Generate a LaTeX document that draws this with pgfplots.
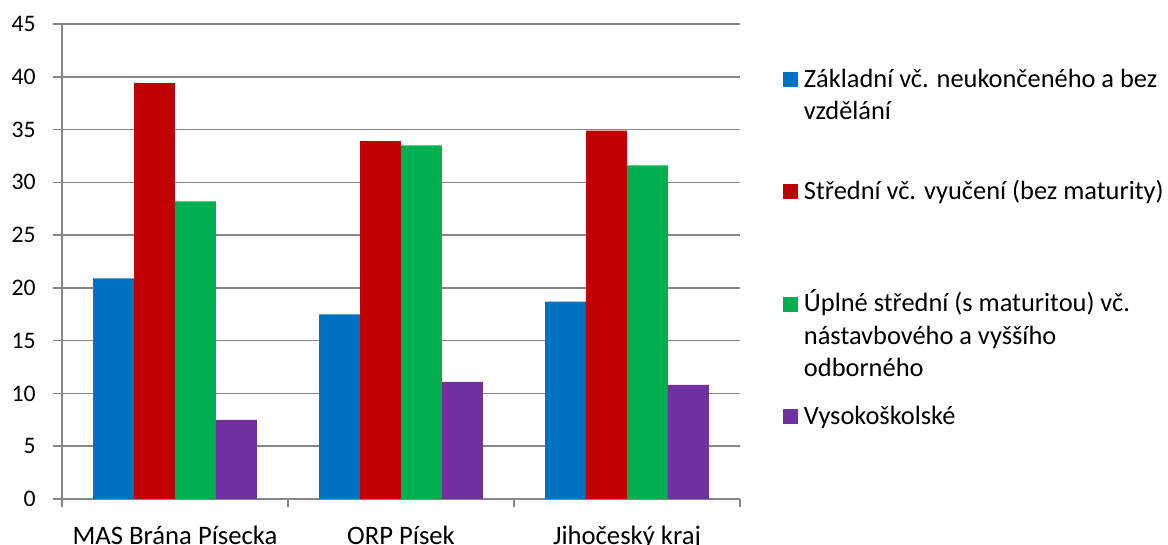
\documentclass[border=0pt]{standalone}
\usepackage{fontspec}
\setmainfont{Carlito}
\usepackage{pgfplots}
\pgfplotsset{compat=1.18}
\definecolor{sblue}{HTML}{0070C0}
\definecolor{sred}{HTML}{C00000}
\definecolor{sgreen}{HTML}{00B050}
\definecolor{spurple}{HTML}{7030A0}
\definecolor{gridgray}{HTML}{868686}
\newcommand{\legtext}[1]{\parbox[t][84.25pt][t]{300pt}{\fontsize{19.8}{24.4}\selectfont\rule{0pt}{19pt}#1}}
\pgfplotsset{lsq/.style={legend image code/.code={\fill[##1] (0pt,0pt) rectangle (11.25pt,11.25pt);}}}
\begin{document}
\begin{tikzpicture}
\useasboundingbox (-46.5pt,-34.5pt) rectangle (829.5pt,374.25pt);
\begin{axis}[
  at={(0pt,0pt)}, anchor=south west,
  scale only axis, width=508.5pt, height=356.25pt,
  ybar=0pt, bar width=0.1814,
  xmin=-0.5, xmax=2.5, ymin=0, ymax=45,
  ytick={0,5,...,45},
  xtick={0,1,2},
  xticklabels={MAS Brána Písecka, ORP Písek, Jihočeský kraj},
  minor xtick={-0.5,0.5,1.5,2.5},
  major x tick style={draw=none},
  tick align=outside, tick pos=left,
  major tick length=6.75pt, minor tick length=6pt,
  axis x line*=bottom, axis y line*=left,
  axis line style={-, draw=gridgray, line width=1.1pt},
  tick style={draw=gridgray, line width=1.1pt},
  ymajorgrids, major grid style={draw=gridgray, line width=1.1pt},
  /pgf/number format/assume math mode=true,
  yticklabel style={font=\fontsize{17.8}{21}\selectfont, inner sep=0pt, anchor=east, xshift=-12.75pt},
  xticklabel style={font=\fontsize{20}{24}\selectfont, inner sep=0pt, anchor=base, yshift=-27.5pt},
  legend style={at={(1.0634,0.9207)}, anchor=north west, draw=none, fill=none,
    inner sep=0pt, outer sep=0pt, row sep=0pt, column sep=4.5pt,
    cells={anchor=base west}, nodes={inner sep=0pt, outer sep=0pt, text depth=}},
]
\addplot[fill=sblue, draw=none, lsq] coordinates {(0,20.9) (1,17.5) (2,18.7)};
\addlegendentry{\legtext{Základní vč. neukončeného a bez\\vzdělání}}
\addplot[fill=sred, draw=none, lsq] coordinates {(0,39.4) (1,33.9) (2,34.9)};
\addlegendentry{\legtext{Střední vč. vyučení (bez maturity)}}
\addplot[fill=sgreen, draw=none, lsq] coordinates {(0,28.2) (1,33.5) (2,31.6)};
\addlegendentry{\legtext{Úplné střední (s maturitou) vč.\\nástavbového a vyššího\\odborného}}
\addplot[fill=spurple, draw=none, lsq] coordinates {(0,7.5) (1,11.1) (2,10.8)};
\addlegendentry{\legtext{Vysokoškolské}}
\end{axis}
\end{tikzpicture}
\end{document}
